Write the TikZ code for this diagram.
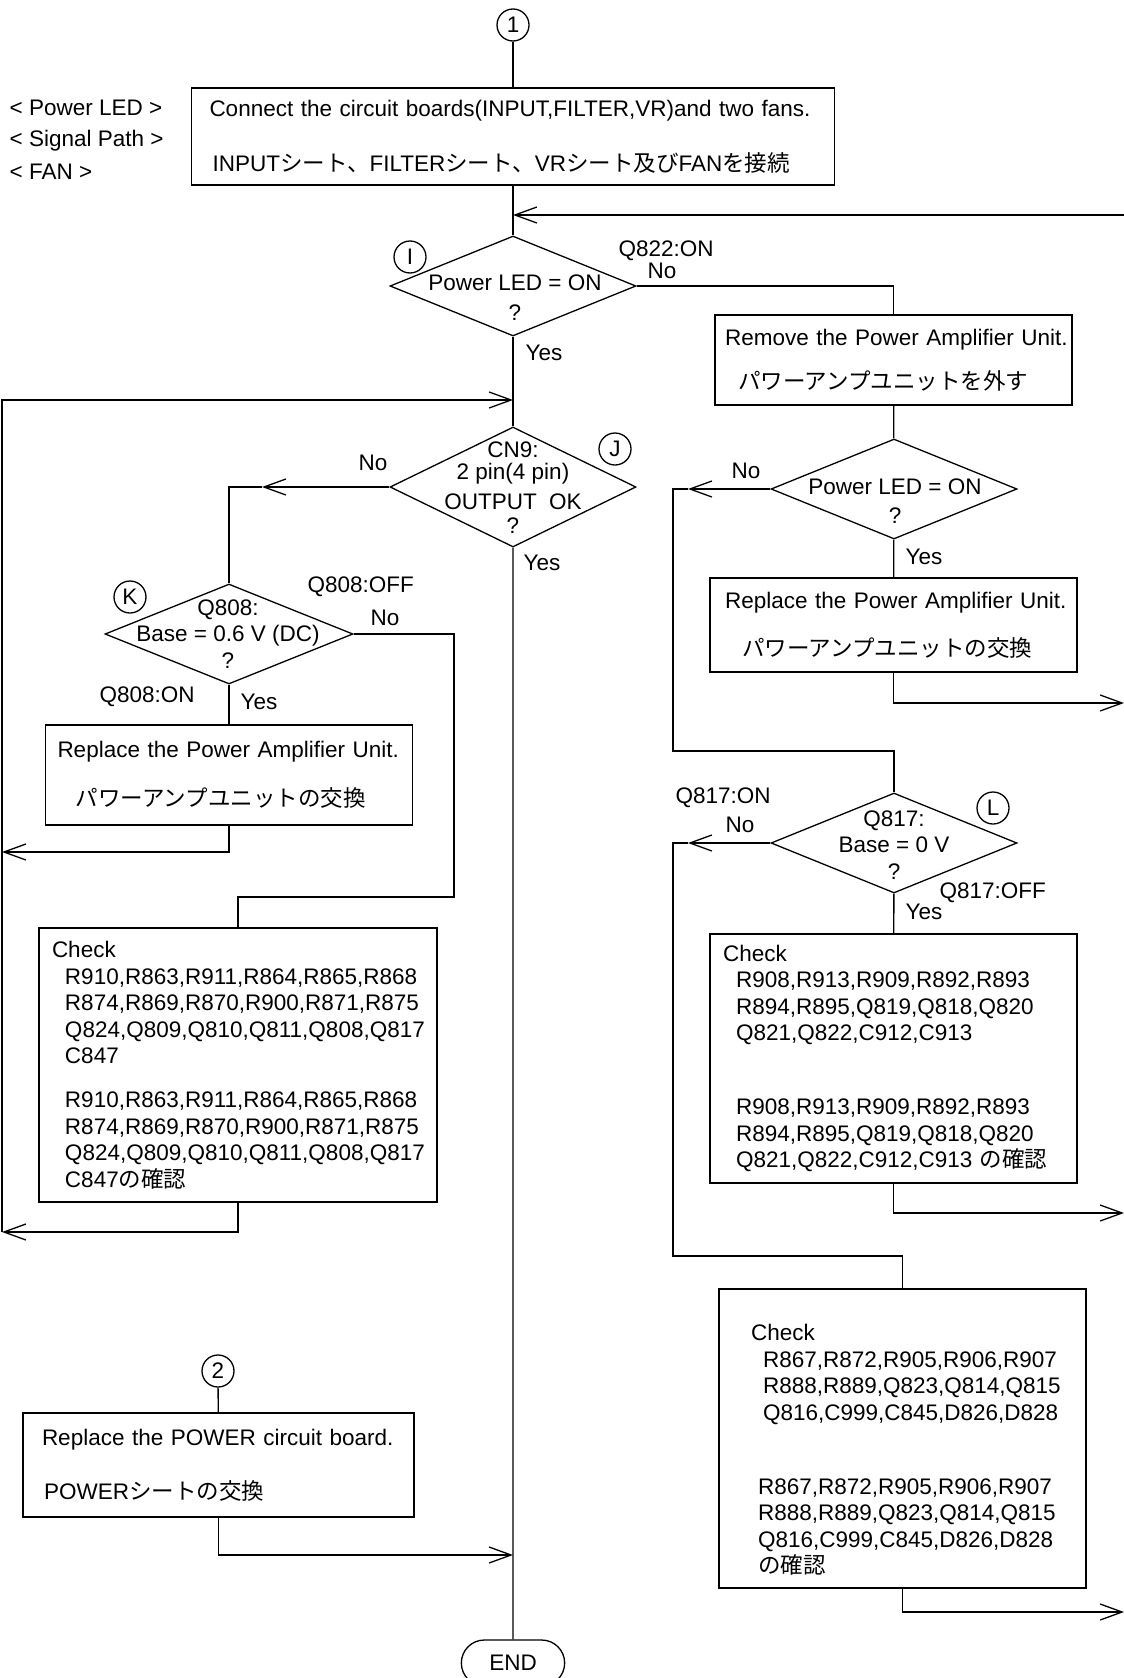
\documentclass[tikz,border=0pt]{standalone}
\usepackage{fontspec}
\setmainfont{Liberation Sans}
\newfontfamily\jpfont{Noto Sans CJK JP}
\newcommand{\jp}[1]{{\jpfont #1}}
\usetikzlibrary{arrows.meta,shapes.geometric,shapes.misc}

\begin{document}
\begin{tikzpicture}[
                x=1pt, y=-1pt, line width=1.3pt,
                every node/.style={font=\fontsize{22.5}{26.5}\selectfont},
                box/.style={draw, align=left, inner ysep=0pt},
                dec/.style={diamond, draw, inner sep=0pt, minimum width=246pt, minimum height=100pt},
                tag/.style={circle, draw, inner sep=0pt, minimum size=32pt},
                term/.style={rounded rectangle, draw, minimum width=110pt, minimum height=46pt},
                txt/.style={align=center, inner sep=0pt},
                lab/.style={anchor=west, inner sep=0pt},
                arr/.style={-{Straight Barb[length=22pt, width=16pt]}}
            ]
                \useasboundingbox (0,0) rectangle (1124,1678);

                \node[tag] (c1) at (513,25) {1};
                \node[box, text width=607pt, inner xsep=18pt, minimum height=97pt] (top) at (513,136.5)
                    {Connect the circuit boards(INPUT,FILTER,VR)and two fans.\\[28.5pt]\hspace*{3pt}INPUT\jp{シート、}FILTER\jp{シート、}VR\jp{シート及び}FAN\jp{を接続}};
                \node[lab] (g1) at (9,108) {< Power LED >};
                \node[lab] (g2) at (9,141) {< Signal Path >};
                \node[lab] (g3) at (9,172) {< FAN >};

                \coordinate (e1) at (1124,215);
                \coordinate (m1) at (513,215);
                \node[dec] (dI) at (513,286) {};
                \node[txt] (tI) at (515,298) {Power LED = ON\\[3.5pt]?};
                \node[tag] (cI) at (410,257) {I};
                \node[lab] (qI) at (618,251) {Q822:ON};
                \node[lab] (nI) at (647,271) {No};
                \node[lab] (yI) at (525,353) {Yes};
                \node[box, text width=351pt, inner xsep=3pt, minimum height=90pt] (rem) at (893.5,360)
                    {\hspace*{7pt}Remove the Power Amplifier Unit.\\[17.5pt]\hspace*{20pt}\jp{パワーアンプユニットを外す}};

                \coordinate (m2) at (513,400);
                \node[dec, minimum height=120pt] (dJ) at (513,487) {};
                \node[txt] (tJ) at (513,488) {CN9:\\[-4.5pt]2 pin(4 pin)\\[3.5pt]OUTPUT\ \ OK\\[-2.5pt]?};
                \node[tag] (cJ) at (615,449) {J};
                \node[lab] (nJ) at (358,463) {No};
                \node[lab] (yJ) at (523,563) {Yes};
                \coordinate (jt) at (262,487);

                \node[dec, minimum width=248pt] (dK) at (229,634) {};
                \node[txt] (tK) at (228,634) {Q808:\\Base = 0.6 V (DC)\\?};
                \node[tag] (cK) at (130,597) {K};
                \node[lab] (qK) at (307,587) {Q808:OFF};
                \node[lab] (nK) at (370,618) {No};
                \node[lab] (qK2) at (99,697) {Q808:ON};
                \node[lab] (yK) at (240,702) {Yes};
                \coordinate (kn) at (454,897);
                \node[box, text width=343pt, inner xsep=12pt, minimum height=100pt] (repL) at (229,775)
                    {Replace the Power Amplifier Unit.\\[22.5pt]\hspace*{18pt}\jp{パワーアンプユニットの交換}};
                \coordinate (lb1) at (2,852);
                \node[box, text width=372pt, inner xsep=13pt, minimum height=274pt] (chkL) at (238,1065)
                    {Check\\
                     \hspace*{13pt}R910,R863,R911,R864,R865,R868\\
                     \hspace*{13pt}R874,R869,R870,R900,R871,R875\\
                     \hspace*{13pt}Q824,Q809,Q810,Q811,Q808,Q817\\
                     \hspace*{13pt}C847\\[17.5pt]
                     \hspace*{13pt}R910,R863,R911,R864,R865,R868\\
                     \hspace*{13pt}R874,R869,R870,R900,R871,R875\\
                     \hspace*{13pt}Q824,Q809,Q810,Q811,Q808,Q817\\
                     \hspace*{13pt}C847\jp{の確認}};
                \coordinate (lb2) at (2,1232);

                \node[dec] (dP) at (894,489) {};
                \node[txt] (tP) at (895,501.5) {Power LED = ON\\[2.5pt]?};
                \node[lab] (nP) at (731,471) {No};
                \node[lab] (yP) at (905,557) {Yes};
                \coordinate (pt) at (688,489);
                \coordinate (pc) at (673,489);
                \coordinate (pn) at (673,751);
                \node[box, text width=347pt, inner xsep=10pt, minimum height=94pt] (repR) at (893.5,625)
                    {\hspace*{5pt}Replace the Power Amplifier Unit.\\[21.5pt]\hspace*{22pt}\jp{パワーアンプユニットの交換}};
                \coordinate (e2) at (1124,703);

                \node[dec] (dL) at (894,843) {};
                \node[txt] (tL) at (894,845.5) {Q817:\\[-0.5pt]Base = 0 V\\[0.5pt]?};
                \node[tag] (cL) at (993,808) {L};
                \node[lab] (qL) at (675,798) {Q817:ON};
                \node[lab] (nL) at (725,825) {No};
                \node[lab] (qL2) at (939,893) {Q817:OFF};
                \node[lab] (yL) at (905,912) {Yes};
                \coordinate (lt) at (688,843);
                \coordinate (lc) at (673,843);
                \coordinate (ln) at (673,1256);
                \node[box, text width=341pt, inner xsep=13pt, minimum height=249pt] (chk2) at (893.5,1058.5)
                    {Check\\
                     \hspace*{13pt}R908,R913,R909,R892,R893\\
                     \hspace*{13pt}R894,R895,Q819,Q818,Q820\\
                     \hspace*{13pt}Q821,Q822,C912,C913\\[47.5pt]
                     \hspace*{13pt}R908,R913,R909,R892,R893\\
                     \hspace*{13pt}R894,R895,Q819,Q818,Q820\\
                     \hspace*{13pt}Q821,Q822,C912,C913 \jp{の確認}};
                \coordinate (e3) at (1124,1213);
                \node[box, text width=303pt, inner xsep=32pt, minimum height=299pt, text height=39pt] (chk3) at (902.5,1438.5)
                    {Check\\
                     \hspace*{12pt}R867,R872,R905,R906,R907\\
                     \hspace*{12pt}R888,R889,Q823,Q814,Q815\\
                     \hspace*{12pt}Q816,C999,C845,D826,D828\\[47.5pt]
                     \hspace*{7pt}R867,R872,R905,R906,R907\\
                     \hspace*{7pt}R888,R889,Q823,Q814,Q815\\
                     \hspace*{7pt}Q816,C999,C845,D826,D828\\
                     \hspace*{7pt}\jp{の確認}};
                \coordinate (e4) at (1124,1612);

                \node[tag] (c2) at (218,1371) {2};
                \node[box, text width=353pt, inner xsep=19pt, minimum height=104pt] (pwr) at (218.5,1465)
                    {Replace the POWER circuit board.\\[27.5pt]\hspace*{2pt}POWER\jp{シートの交換}};
                \coordinate (m3) at (513,1555);
                \node[term] (end) at (513,1663) {END};

                \draw (c1) -- (top);
                \draw (top) -- (dI);
                \draw[arr] (e1) -- (m1);
                \draw (dI.east) -| (rem.north);
                \draw (dI) -- (dJ);
                \draw[arr] (lb2) |- (m2);
                \draw[arr] (dJ.west) -- (jt);
                \draw (jt) -| (dK.north);
                \draw (dJ) -- (end);
                \draw (dK.east) -| (kn) -| (chkL.north);
                \draw (dK) -- (repL);
                \draw[arr] (repL.south) |- (lb1);
                \draw[arr] (chkL.south) |- (lb2);
                \draw (rem) -- (dP);
                \draw[arr] (dP.west) -- (pt);
                \draw (pt) -- (pc) -- (pn) -| (dL.north);
                \draw (dP) -- (repR);
                \draw[arr] (repR.south) |- (e2);
                \draw[arr] (dL.west) -- (lt);
                \draw (lt) -- (lc) -- (ln) -| (chk3.north);
                \draw (dL) -- (chk2);
                \draw[arr] (chk2.south) |- (e3);
                \draw[arr] (chk3.south) |- (e4);
                \draw (c2) -- (pwr);
                \draw[arr] (pwr.south) |- (m3);
            \end{tikzpicture}
\end{document}
